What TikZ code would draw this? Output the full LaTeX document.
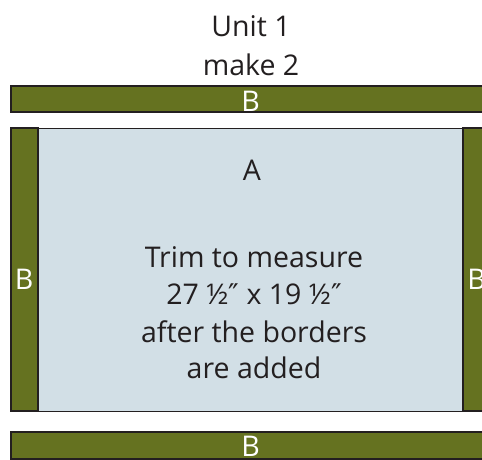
\documentclass[tikz,border=0pt]{standalone}
\usepackage{fontspec}
\setmainfont{Open Sans}
\newfontfamily\primefont{DejaVu Sans}
\usetikzlibrary{positioning}

\definecolor{stripgreen}{RGB}{101,114,32}
\definecolor{panelblue}{RGB}{210,223,230}
\definecolor{inkdark}{RGB}{35,31,32}

\newcommand{\inchmark}{{\primefont ″}}

\tikzset{
  strip/.style={fill=stripgreen, draw=inkdark, line width=1.2pt},
  panel/.style={fill=panelblue, draw=inkdark, line width=1pt},
  striplabel/.style={text=white, font=\fontsize{28.5}{34}\selectfont, inner sep=0pt, anchor=base},
  bodytext/.style={text=inkdark, font=\fontsize{28.5}{34}\selectfont, inner sep=0pt, anchor=base}
}

\begin{document}
\begin{tikzpicture}[x=1pt, y=-1pt]
  \useasboundingbox (0,0) rectangle (482,460);
  \clip (0,0) rectangle (482,460);

  \node[bodytext] (unit) at (251,37) {Unit 1};
  \node[bodytext] (make) at (251,75) {make 2};

  \draw[strip] (11,86) rectangle (490,112);
  \node[striplabel] (bTop) at (250.5,111) {B};

  \draw[panel] (11,128) rectangle (490,411);
  \draw[strip] (11,128) rectangle (38,411);
  \draw[strip] (463,128) rectangle (490,411);
  \node[striplabel] (bLeft) at (24,289) {B};
  \node[striplabel] (bRight) at (476.5,289) {B};

  \node[bodytext] (unitA) at (252,180) {A};
  \node[bodytext] (trimA) at (254,267) {Trim to measure};
  \node[bodytext] (trimB) at (254,304) {27 ½\inchmark{} x 19 ½\inchmark};
  \node[bodytext] (trimC) at (254,342) {after the borders};
  \node[bodytext] (trimD) at (254,378) {are added};

  \draw[strip] (11,432) rectangle (490,459);
  \node[striplabel] (bBottom) at (250.5,456) {B};
\end{tikzpicture}
\end{document}
